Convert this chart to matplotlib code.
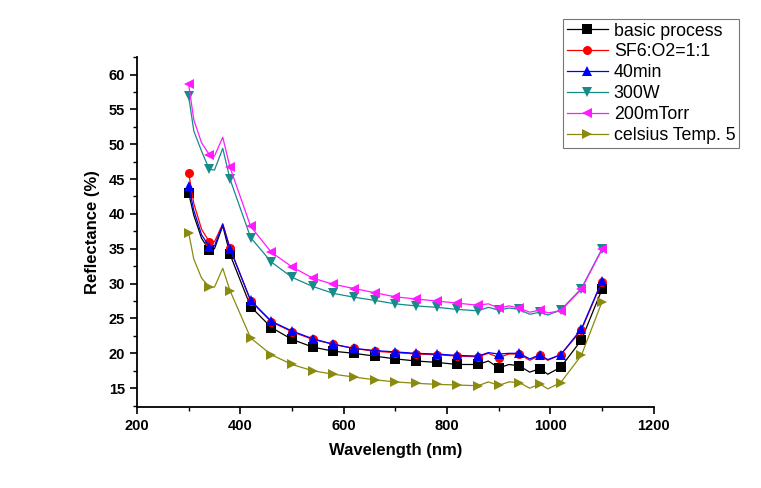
import matplotlib.pyplot as plt
from matplotlib.ticker import MultipleLocator

plt.rcParams['font.family'] = ['Liberation Sans', 'DejaVu Sans']

# wavelengths of the sampled spectrum (nm); markers sit on the 40 nm grid
wl = [300, 310, 325, 340, 350, 366, 380, 420, 460, 500, 540, 580, 620, 660, 700, 740,
      780, 820, 860, 880, 900, 920, 940, 960, 980, 995, 1020, 1060, 1100]
marker_wl = [300, 340, 380, 420, 460, 500, 540, 580, 620, 660, 700, 740, 780,
             820, 860, 900, 940, 980, 1020, 1060, 1100]

basic = [43.0, 39.8, 36.5, 34.8, 35.0, 38.3, 34.2, 26.7, 23.7, 22.0, 20.9, 20.3, 20.0, 19.6, 19.2, 18.9,
         18.7, 18.4, 18.4, 18.9, 17.9, 18.4, 18.2, 17.3, 17.8, 17.0, 18.0, 21.9, 29.2]
sf6 = [45.9, 41.5, 37.8, 36.0, 36.0, 38.6, 35.1, 27.5, 24.5, 23.1, 22.0, 21.3, 20.7, 20.3, 20.1, 19.9,
       19.8, 19.6, 19.5, 20.0, 19.4, 19.9, 19.9, 19.0, 19.7, 19.0, 19.8, 23.3, 30.3]
min40 = [44.0, 40.5, 37.0, 35.3, 35.4, 38.5, 35.0, 27.6, 24.6, 23.2, 22.1, 21.3, 20.7, 20.4, 20.2, 20.0,
         19.9, 19.7, 19.6, 20.1, 19.9, 20.0, 20.0, 19.2, 19.8, 19.1, 19.8, 23.5, 30.4]
w300 = [56.9, 51.9, 49.0, 46.4, 46.3, 49.4, 45.0, 36.6, 33.1, 30.9, 29.6, 28.6, 28.05, 27.6, 27.1, 26.8,
        26.6, 26.3, 26.1, 26.6, 26.2, 26.5, 26.3, 25.6, 25.9, 25.5, 26.2, 29.3, 35.0]
mtorr200 = [58.6, 53.5, 50.2, 48.5, 48.3, 51.0, 46.7, 38.2, 34.5, 32.4, 30.8, 29.9, 29.3, 28.7, 28.1, 27.8,
            27.5, 27.2, 26.9, 27.1, 26.5, 26.8, 26.5, 25.9, 26.2, 25.8, 26.1, 29.2, 34.9]
temp5 = [37.3, 33.5, 30.8, 29.5, 29.5, 32.2, 29.0, 22.2, 19.8, 18.4, 17.5, 17.0, 16.6, 16.2, 15.9, 15.7,
         15.55, 15.45, 15.35, 15.9, 15.4, 15.9, 15.8, 15.0, 15.6, 14.9, 15.8, 19.7, 27.4]

series = [
    ('basic process', basic, 'black', 's'),
    ('SF6:O2=1:1', sf6, 'red', 'o'),
    ('40min', min40, 'blue', '^'),
    ('300W', w300, '#178a8a', 'v'),
    ('200mTorr', mtorr200, '#ff1aff', '<'),
    ('celsius Temp. 5', temp5, '#8a8a10', '>'),
]

marks = [wl.index(w) for w in marker_wl]

fig = plt.figure(figsize=(7.61, 4.88), dpi=100)
ax = fig.add_axes([0.180, 0.166, 0.679, 0.717])

for label, ys, color, m in series:
    ax.plot(wl, ys, '-', color=color, lw=0.9, marker=m, markevery=marks,
            markersize=6.5, markeredgewidth=0, label=label)

ax.set_xlim(200, 1200)
ax.set_ylim(12.3, 62.5)
ax.xaxis.set_major_locator(MultipleLocator(200))
ax.xaxis.set_minor_locator(MultipleLocator(100))
ax.yaxis.set_major_locator(MultipleLocator(5))
ax.yaxis.set_minor_locator(MultipleLocator(2.5))
ax.spines['top'].set_visible(False)
ax.spines['right'].set_visible(False)
ax.spines['left'].set_linewidth(1.3)
ax.spines['bottom'].set_linewidth(1.3)
ax.tick_params(which='major', direction='out', length=5, width=1.2, labelsize=10.5)
ax.tick_params(which='minor', direction='out', length=3, width=1.0)
for t in ax.get_xticklabels() + ax.get_yticklabels():
    t.set_fontweight('bold')

ax.set_xlabel('Wavelength (nm)', fontsize=12, fontweight='bold', labelpad=7)
ax.set_ylabel('Reflectance (%)', fontsize=12, fontweight='bold', labelpad=6)

leg = fig.legend(loc='upper left', bbox_to_anchor=(0.740, 0.961), fontsize=12.8,
                 frameon=True, fancybox=False, edgecolor='#555555', handlelength=2.3,
                 borderpad=0.2, labelspacing=0.22, handletextpad=0.35, borderaxespad=0)
leg.get_frame().set_linewidth(0.8)

fig.savefig('out.png', dpi=100)
